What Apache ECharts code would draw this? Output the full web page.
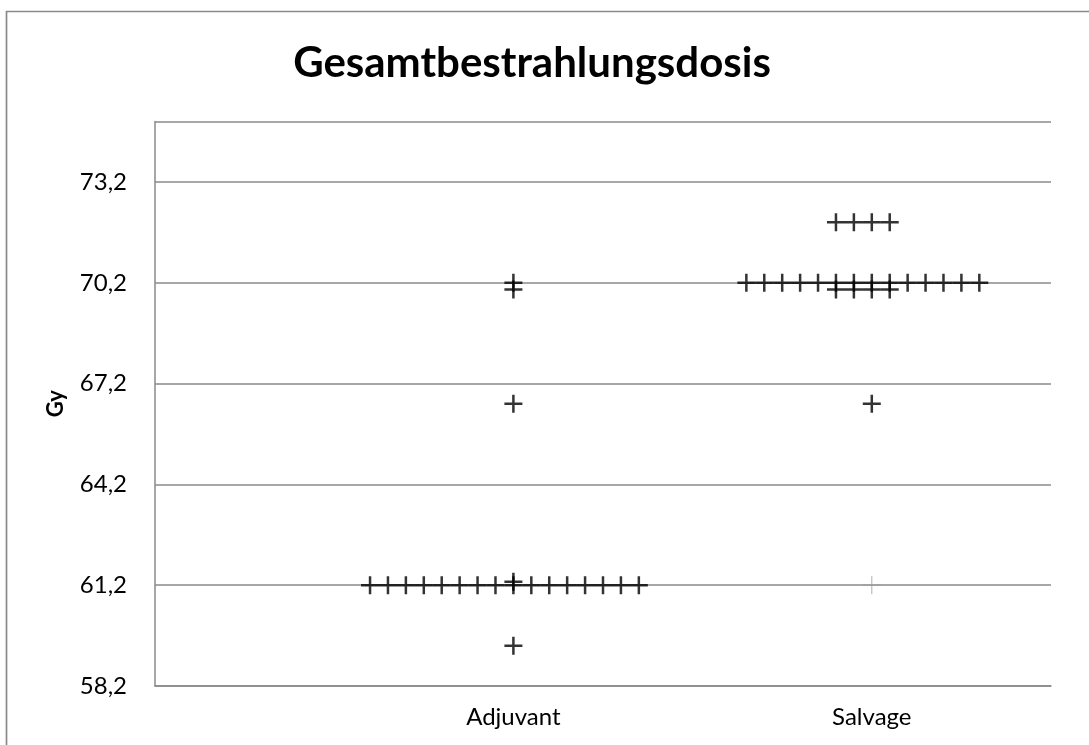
<!DOCTYPE html>
<html>
<head>
<meta charset="utf-8">
<script src="https://cdn.jsdelivr.net/npm/echarts@6/dist/echarts.min.js"></script>
<style>
html,body{margin:0;padding:0;background:#fff;}
#chart{width:1089px;height:745px;}
</style>
</head>
<body>
<div id="chart"></div>
<script>
// ---- data ----
const titleText = 'Gesamtbestrahlungsdosis';
const yAxisName = 'Gy';
const categories = ['Adjuvant', 'Salvage'];
const yTicks = [58.2, 61.2, 64.2, 67.2, 70.2, 73.2];
const yMax = 75.0;
// individual doses (Gy) per patient
const adjuvantDoses = [
  61.2, 61.2, 61.2, 61.2, 61.2, 61.2, 61.2, 61.2,
  61.2, 61.2, 61.2, 61.2, 61.2, 61.2, 61.2, 61.2,
  61.3, 59.4, 66.6, 70.0, 70.2
];
const salvageDoses = [
  72.0, 72.0, 72.0, 72.0,
  70.2, 70.2, 70.2, 70.2, 70.2, 70.2, 70.2,
  70.2, 70.2, 70.2, 70.2, 70.2, 70.2, 70.2,
  70.0, 70.0, 70.0, 70.0,
  66.6
];
const salvageFaint = [61.2];

// ---- build ----
const BASE = yTicks[0];
const STEP = yTicks[1] - yTicks[0];
const groupPos = i => 2 * (i + 1);   // x position of category i on 0..5 axis
const SPREAD = 0.1;

function dotRows(values, gi) {
  const counts = new Map();
  values.forEach(v => counts.set(v, (counts.get(v) || 0) + 1));
  const pts = [];
  counts.forEach((n, v) => {
    const start = -Math.floor(n / 2);
    for (let k = 0; k < n; k++) {
      pts.push([groupPos(gi) + (start + k) * SPREAD, +(v - BASE).toFixed(3)]);
    }
  });
  return pts;
}

const fmt = v => (v + BASE).toFixed(1).replace('.', ',');
const crossPath = 'path://M10,0 L10,20 M0,10 L20,10';
const FONT = 'Lato, "Open Sans", sans-serif';

const chart = echarts.init(document.getElementById('chart'), null, {renderer: 'canvas'});
chart.setOption({
  backgroundColor: '#fff',
  animation: false,
  graphic: [
    {type: 'rect', shape: {x: 6.5, y: 11.5, width: 1300, height: 1000},
     style: {fill: 'none', stroke: '#8a8a8a', lineWidth: 1.7}, z: -1, silent: true},
    {type: 'text', x: 532, y: 63,
     style: {text: titleText, font: 'bold 42px ' + FONT, fill: '#000',
             textAlign: 'center', textVerticalAlign: 'middle'}}
  ],
  grid: {left: 155, right: 38, top: 121.5, bottom: 59, containLabel: false},
  xAxis: {
    type: 'value', min: 0, max: 5, interval: 1,
    axisLine: {show: true, onZero: false, lineStyle: {color: '#8a8a8a', width: 1.5}},
    axisTick: {show: false},
    splitLine: {show: false},
    axisLabel: {
      color: '#000', fontFamily: FONT, fontSize: 24, margin: 19,
      formatter: v => {
        const i = categories.findIndex((c, k) => groupPos(k) === v);
        return i >= 0 ? categories[i] : '';
      }
    }
  },
  yAxis: {
    type: 'value', min: 0, max: +(yMax - BASE).toFixed(3), interval: STEP,
    name: yAxisName, nameLocation: 'middle', nameRotate: 90, nameGap: 88,
    nameTextStyle: {color: '#000', fontFamily: FONT, fontWeight: 'bold', fontSize: 22},
    axisLine: {show: true, lineStyle: {color: '#8a8a8a', width: 1.5}},
    axisTick: {show: false},
    splitLine: {show: true, lineStyle: {color: '#8a8a8a', width: 1.5}},
    axisLabel: {color: '#000', fontFamily: FONT, fontSize: 24, margin: 28,
      formatter: v => (Math.abs(v - (yMax - BASE)) < 1e-6 ? '' : fmt(v))}
  },
  series: [
    {type: 'scatter', name: categories[0], data: dotRows(adjuvantDoses, 0),
     symbol: crossPath, symbolSize: 18,
     itemStyle: {color: 'rgba(0,0,0,0)', borderColor: '#000', borderWidth: 2.5}},
    {type: 'scatter', name: categories[1], data: dotRows(salvageDoses, 1),
     symbol: crossPath, symbolSize: 18,
     itemStyle: {color: 'rgba(0,0,0,0)', borderColor: '#000', borderWidth: 2.5}},
    {type: 'scatter', name: categories[1] + ' (faint)', data: dotRows(salvageFaint, 1),
     symbol: crossPath, symbolSize: 18,
     itemStyle: {color: 'rgba(0,0,0,0)', borderColor: '#9a9a9a', borderWidth: 1}}
  ]
});
</script>
</body>
</html>
